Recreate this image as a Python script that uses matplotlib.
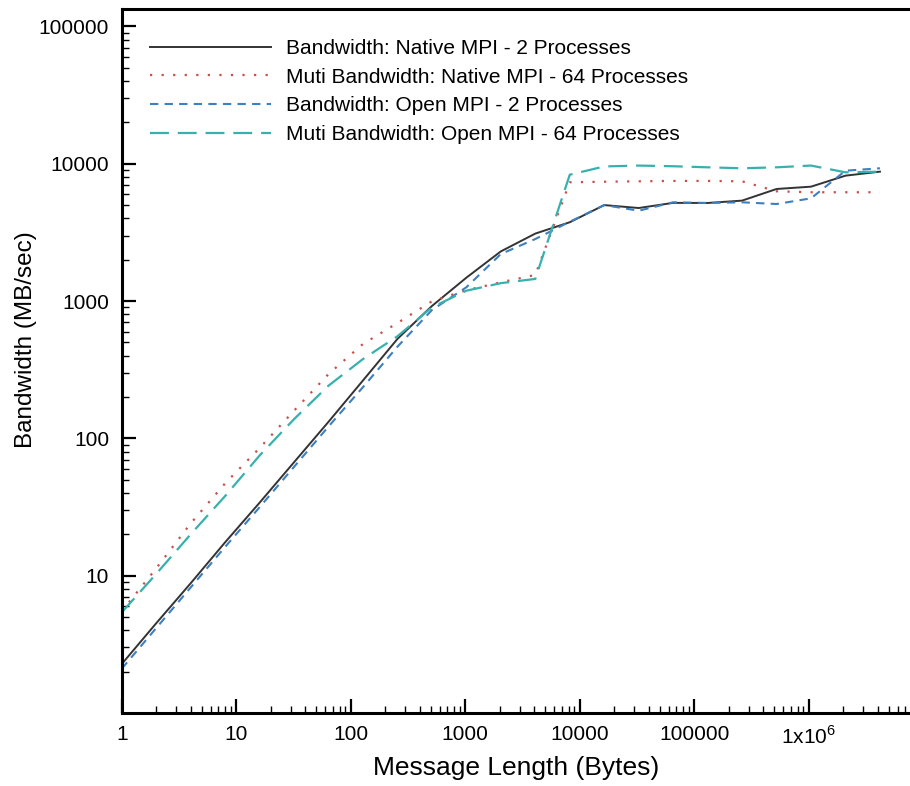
import matplotlib
matplotlib.use("Agg")
import matplotlib.pyplot as plt
from matplotlib.ticker import LogLocator, FixedLocator, FixedFormatter, NullFormatter

plt.rcParams['font.family'] = ['Liberation Sans', 'DejaVu Sans']
plt.rcParams['mathtext.fontset'] = 'custom'
plt.rcParams['mathtext.rm'] = 'Liberation Sans'

# Message sizes: powers of two from 1 B to 4 MB
msg_bytes = [2 ** k for k in range(23)]

native_2 = [2.27, 4.5, 8.8, 17.5, 34, 67, 132, 264, 530, 920, 1480, 2300,
            3100, 3750, 5000, 4760, 5190, 5180, 5390, 6550, 6810, 8190, 8760]
native_64 = [5.5, 11.3, 24, 47, 85, 159, 294, 487, 692, 996, 1200, 1370,
             1550, 7330, 7400, 7450, 7500, 7500, 7450, 6300, 6200, 6200, 6200]
open_2 = [2.1, 4.15, 8.2, 16.2, 31.5, 62, 122, 236, 465, 860, 1260, 2200,
          2830, 3780, 5000, 4550, 5240, 5180, 5240, 5090, 5600, 8900, 9270]
open_64 = [5.4, 10.3, 20, 38, 75, 138, 242, 378, 554, 900, 1190, 1350,
           1450, 8320, 9560, 9700, 9590, 9420, 9270, 9420, 9700, 8660, 8760]

labels = ["Bandwidth: Native MPI - 2 Processes",
          "Muti Bandwidth: Native MPI - 64 Processes",
          "Bandwidth: Open MPI - 2 Processes",
          "Muti Bandwidth: Open MPI - 64 Processes"]

x_ticks = [1, 10, 100, 1000, 10000, 100000, 1000000]
x_tick_labels = ["1", "10", "100", "1000", "10000", "100000", "1x10$^{6}$"]
y_ticks = [10, 100, 1000, 10000, 100000]
y_tick_labels = ["10", "100", "1000", "10000", "100000"]

fig = plt.figure(figsize=(9.10, 7.86), dpi=100)
ax = fig.add_axes([121.7 / 910, (786 - 713) / 786, (910 - 121.7) / 910, (713 - 9) / 786])

ax.plot(msg_bytes, native_2, color="#333333", lw=1.4, ls="-", label=labels[0])
ax.plot(msg_bytes, native_64, color="#c8504a", lw=1.6, ls=(0, (1, 4.2)), label=labels[1])
ax.plot(msg_bytes, open_2, color="#3d80c2", lw=1.5, ls=(0, (4, 3)), label=labels[2])
ax.plot(msg_bytes, open_64, color="#36b1ad", lw=1.6, ls=(0, (8.5, 4)), label=labels[3])

ax.set_xscale("log")
ax.set_yscale("log")
ax.set_xlim(1, 10 ** 6.885)
ax.set_ylim(1, 10 ** 5.127)

ax.xaxis.set_major_locator(FixedLocator(x_ticks))
ax.xaxis.set_major_formatter(FixedFormatter(x_tick_labels))
ax.yaxis.set_major_locator(FixedLocator(y_ticks))
ax.yaxis.set_major_formatter(FixedFormatter(y_tick_labels))
ax.xaxis.set_minor_locator(LogLocator(base=10, subs=range(2, 10), numticks=20))
ax.yaxis.set_minor_locator(LogLocator(base=10, subs=range(2, 10), numticks=20))
ax.xaxis.set_minor_formatter(NullFormatter())
ax.yaxis.set_minor_formatter(NullFormatter())

ax.tick_params(which="major", direction="in", length=10, width=1.6, labelsize=15,
               top=False, right=False)
ax.tick_params(which="minor", direction="in", length=5, width=1.0, top=False, right=False)
ax.tick_params(axis="x", which="major", pad=9)
ax.tick_params(axis="y", which="major", pad=9)

for side in ("left", "bottom", "top"):
    ax.spines[side].set_linewidth(2.2)
ax.spines["right"].set_visible(False)

ax.set_xlabel("Message Length (Bytes)", fontsize=19, labelpad=6)
ax.set_ylabel("Bandwidth (MB/sec)", fontsize=17.5)
ax.yaxis.set_label_coords(-0.108, 0.53)

ax.legend(loc="upper left", bbox_to_anchor=(0.02, 0.975), frameon=False, fontsize=15,
          handlelength=5.8, handletextpad=0.72, labelspacing=0.46, borderaxespad=0.2)

fig.savefig("out.png", dpi=100)
